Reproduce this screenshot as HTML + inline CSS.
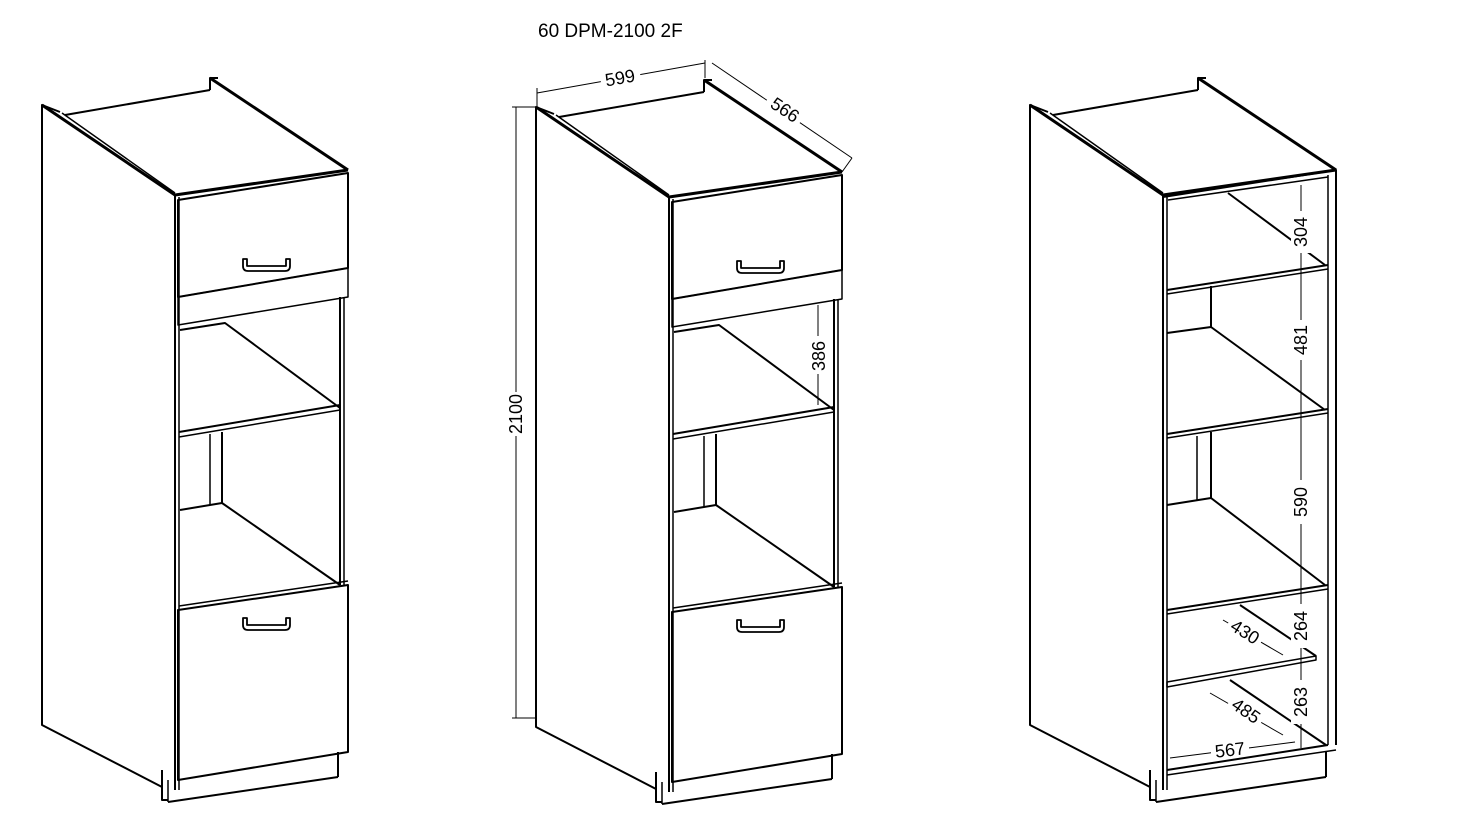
<!DOCTYPE html>
<html><head><meta charset="utf-8"><style>
html,body{margin:0;padding:0;background:#fff;}
svg{display:block;}
text{font-family:"Liberation Sans",sans-serif;fill:#000;}
</style></head><body>
<svg width="1461" height="836" viewBox="0 0 1461 836" xmlns="http://www.w3.org/2000/svg">
<defs>
<g id="shell" fill="none" stroke="#000" stroke-linejoin="round">
  <polyline points="60,112 42,105 42,725 162,787" stroke-width="2"/>
  <line x1="42" y1="105" x2="175" y2="195" stroke-width="3"/>
  <line x1="62" y1="113" x2="175" y2="193" stroke-width="1.5"/>
  <line x1="65" y1="115" x2="210" y2="90" stroke-width="2"/>
  <polyline points="210,90 210,78 218,78" stroke-width="2"/>
  <line x1="210" y1="78" x2="348" y2="170" stroke-width="3"/>
  <line x1="175" y1="195" x2="348" y2="170" stroke-width="3"/>
  <line x1="175" y1="195" x2="175" y2="790" stroke-width="2"/>
  <line x1="179" y1="197" x2="179" y2="790" stroke-width="1.5"/>
  <polyline points="162,770 162,800 168,800" stroke-width="2"/>
  <line x1="168" y1="780" x2="168" y2="802" stroke-width="1.5"/>
  <line x1="168" y1="802" x2="338" y2="777" stroke-width="2"/>
  <line x1="338" y1="752" x2="338" y2="777" stroke-width="2"/>
</g>
<g id="front" fill="none" stroke="#000" stroke-linejoin="round">
  <polygon points="178,200 348,173 348,268 178,297" stroke-width="2"/>
  <polygon points="178,297 348,268 348,297 178,325" stroke-width="1.5"/>
  <path d="M243,259 v7 q0,5 5,5 h37 q5,0 5,-5 v-7 h-4 v7 h-39 v-7 z" stroke-width="1.8"/>
  <line x1="340" y1="297" x2="340" y2="585" stroke-width="2"/>
  <line x1="344" y1="297" x2="344" y2="585" stroke-width="1.5"/>
  <polyline points="180,330 225,323 340,408" stroke-width="2"/>
  <line x1="179" y1="432" x2="340" y2="405" stroke-width="2"/>
  <line x1="179" y1="437" x2="340" y2="410" stroke-width="1.5"/>
  <line x1="210" y1="434" x2="210" y2="505" stroke-width="1.5"/>
  <line x1="222" y1="432" x2="222" y2="503" stroke-width="2"/>
  <polyline points="180,510 222,503 340,585" stroke-width="2"/>
  <polygon points="178,610 348,585 348,752 178,780" stroke-width="2"/>
  <line x1="179" y1="606" x2="348" y2="581" stroke-width="1.5"/>
  <path d="M243,618 v7 q0,5 5,5 h37 q5,0 5,-5 v-7 h-4 v7 h-39 v-7 z" stroke-width="1.8"/>
</g>
</defs>

<text x="538" y="37" font-size="19">60 DPM-2100 2F</text>

<use href="#shell"/>
<use href="#front"/>

<g transform="translate(494,2)">
<use href="#shell"/>
<use href="#front"/>
</g>

<g fill="none" stroke="#000" stroke-width="1">
  <line x1="516" y1="107" x2="516" y2="718"/>
  <line x1="512" y1="107" x2="537" y2="107"/>
  <line x1="512" y1="718" x2="537" y2="718"/>
  <line x1="537" y1="93" x2="705" y2="63"/>
  <line x1="537" y1="88" x2="537" y2="106"/>
  <line x1="705" y1="60" x2="705" y2="78"/>
  <line x1="712" y1="63" x2="852" y2="158"/>
  <line x1="852" y1="158" x2="842" y2="172"/>
  <line x1="818" y1="305" x2="818" y2="405"/>
</g>
<g font-size="18" text-anchor="middle">
<rect x="600" y="66" width="40" height="18" fill="#fff" transform="rotate(-10 620 75)"/>
<text x="620" y="84" transform="rotate(-10 620 78)">599</text>
<rect x="765" y="100" width="40" height="18" fill="#fff" transform="rotate(34 785 109)"/>
<text x="785" y="116" transform="rotate(34 785 110)">566</text>
<rect x="506" y="392" width="20" height="44" fill="#fff"/>
<text x="522" y="414" transform="rotate(-90 522 414)">2100</text>
<rect x="810" y="336" width="20" height="38" fill="#fff"/>
<text x="825" y="356" transform="rotate(-90 825 356)">386</text>
</g>

<g transform="translate(988,0)">
<use href="#shell"/>
</g>
<g fill="none" stroke="#000" stroke-linejoin="round">
  <polyline points="1163,197 1336,170 1336,745" stroke-width="2"/>
  <line x1="1328" y1="175" x2="1328" y2="745" stroke-width="1.5"/>
  <line x1="1168" y1="200" x2="1328" y2="177" stroke-width="1.5"/>
  <line x1="1228" y1="193" x2="1325" y2="265" stroke-width="2"/>
  <line x1="1167" y1="290" x2="1328" y2="265" stroke-width="2"/>
  <line x1="1167" y1="294" x2="1328" y2="269" stroke-width="1.5"/>
  <line x1="1211" y1="286" x2="1211" y2="327" stroke-width="2"/>
  <polyline points="1167,333 1211,327 1325,410" stroke-width="2"/>
  <line x1="1167" y1="434" x2="1328" y2="409" stroke-width="2"/>
  <line x1="1167" y1="438" x2="1328" y2="413" stroke-width="1.5"/>
  <line x1="1197" y1="436" x2="1197" y2="500" stroke-width="1.5"/>
  <line x1="1211" y1="432" x2="1211" y2="498" stroke-width="2"/>
  <polyline points="1167,505 1211,498 1325,585" stroke-width="2"/>
  <line x1="1167" y1="610" x2="1328" y2="585" stroke-width="2"/>
  <line x1="1167" y1="614" x2="1328" y2="589" stroke-width="1.5"/>
  <line x1="1240" y1="605" x2="1316" y2="656" stroke-width="2"/>
  <polygon points="1167,682 1316,656 1316,660 1167,687" stroke-width="1.5"/>
  <line x1="1230" y1="680" x2="1326" y2="745" stroke-width="2"/>
  <line x1="1167" y1="770" x2="1328" y2="745" stroke-width="2"/>
  <line x1="1167" y1="775" x2="1336" y2="750" stroke-width="1.5"/>
</g>
<g fill="none" stroke="#000" stroke-width="1">
  <line x1="1301" y1="185" x2="1301" y2="748"/>
  <line x1="1223" y1="620" x2="1283" y2="655"/>
  <line x1="1210" y1="693" x2="1283" y2="735"/>
  <line x1="1170" y1="758" x2="1295" y2="742"/>
</g>
<g font-size="18" text-anchor="middle">
  <rect x="1291" y="211" width="20" height="42" fill="#fff"/>
  <text x="1307" y="232" transform="rotate(-90 1307 232)">304</text>
  <rect x="1291" y="320" width="20" height="40" fill="#fff"/>
  <text x="1307" y="340" transform="rotate(-90 1307 340)">481</text>
  <rect x="1291" y="480" width="20" height="44" fill="#fff"/>
  <text x="1307" y="502" transform="rotate(-90 1307 502)">590</text>
  <rect x="1291" y="604" width="20" height="44" fill="#fff"/>
  <text x="1307" y="626" transform="rotate(-90 1307 626)">264</text>
  <rect x="1291" y="680" width="20" height="44" fill="#fff"/>
  <text x="1307" y="702" transform="rotate(-90 1307 702)">263</text>
  <rect x="1226" y="624" width="38" height="16" fill="#fff" transform="rotate(32 1245 632)"/>
  <text x="1245" y="638" transform="rotate(32 1245 632)">430</text>
  <rect x="1227" y="703" width="38" height="16" fill="#fff" transform="rotate(35 1246 711)"/>
  <text x="1246" y="717" transform="rotate(35 1246 711)">485</text>
  <rect x="1211" y="739" width="38" height="16" fill="#fff"/>
  <text x="1230" y="756" transform="rotate(-7 1230 750)">567</text>
</g>
</svg>
</body></html>
